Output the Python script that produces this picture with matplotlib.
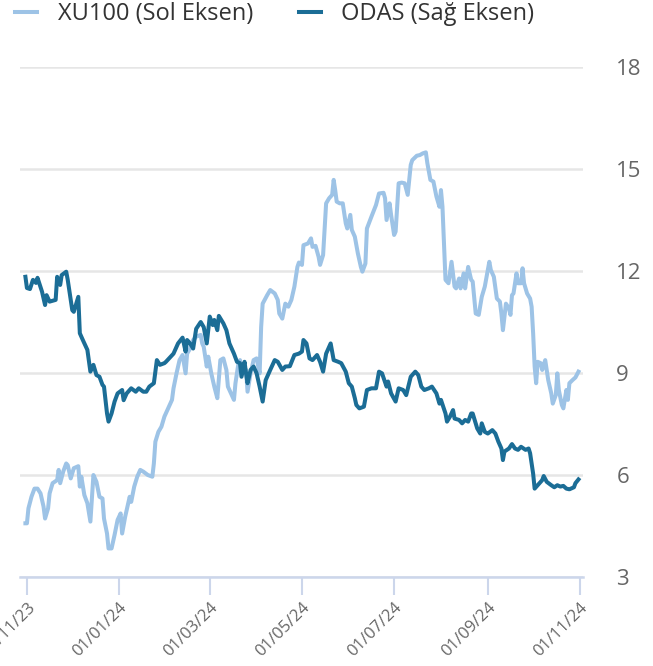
import matplotlib
matplotlib.use("Agg")
import matplotlib.pyplot as plt
import matplotlib.dates as mdates
import pandas as pd

plt.rcParams['font.family'] = ['Open Sans', 'DejaVu Sans']

start = pd.Timestamp('2023-11-01')

# days since 01/11/23 and values
xu100_days = [-1, 0, 1, 3, 5, 7, 9, 11, 12, 14, 15, 17, 20, 21, 22, 24, 26, 27, 29, 31,
              34, 35, 36, 38, 40, 42, 44, 46, 48, 50, 51, 53, 54, 56, 58, 60, 62, 63, 65, 67,
              68, 69, 71, 73, 75, 77, 80, 83, 84, 85, 87, 89, 91, 94, 96, 97, 99, 101, 103, 105,
              106, 108, 110, 112, 115, 116, 117, 119, 120, 122, 124, 126, 128, 130, 132, 133, 136, 137, 138, 140,
              141, 143, 145, 146, 148, 150, 152, 154, 155, 156, 159, 161, 164, 166, 167, 169, 171, 173, 175, 177,
              179, 180, 182, 183, 186, 188, 189, 191, 193, 194, 196, 198, 200, 202, 203, 204, 205, 207, 209, 211,
              212, 214, 215, 217, 219, 221, 222, 224, 225, 228, 231, 233, 236, 237, 238, 240, 241, 243, 244, 246,
              248, 250, 252, 254, 255, 258, 260, 262, 264, 265, 267, 269, 271, 273, 274, 275, 277, 279, 281, 283,
              284, 286, 287, 289, 290, 292, 294, 295, 297, 299, 301, 303, 306, 307, 309, 311, 313, 314, 315, 317,
              319, 320, 321, 322, 324, 325, 327, 328, 329, 331, 333, 334, 335, 336, 337, 338, 340, 341, 343, 345,
              347, 348, 350, 351, 352, 354, 355, 357, 358, 359, 361, 363, 365]
xu100_vals = [4.58, 4.58, 5.02, 5.36, 5.6, 5.6, 5.46, 5.07, 4.72, 5.02, 5.46, 5.76, 5.85, 6.15, 5.76, 6.1, 6.34, 6.29, 5.9, 6.2,
              6.26, 5.66, 5.95, 5.41, 5.17, 4.63, 6.0, 5.8, 5.36, 5.31, 4.72, 4.28, 3.84, 3.84, 4.24, 4.68, 4.87, 4.28, 4.77, 5.17,
              5.36, 5.21, 5.66, 5.95, 6.15, 6.1, 6.0, 5.95, 6.34, 6.98, 7.27, 7.42, 7.72, 8.01, 8.21, 8.55, 8.99, 9.38, 9.53, 8.99,
              9.57, 9.72, 9.97, 10.07, 10.12, 9.87, 9.77, 9.19, 9.48, 8.99, 8.6, 8.26, 9.38, 9.43, 9.09, 8.6, 8.31, 8.21, 8.7, 9.29,
              9.38, 8.99, 9.09, 8.45, 8.99, 9.38, 9.43, 8.99, 10.35, 11.04, 11.29, 11.44, 11.34, 11.15, 10.75, 10.6, 11.04, 10.95, 11.15, 11.54,
              12.12, 12.25, 12.18, 12.76, 12.81, 12.96, 12.71, 12.74, 12.42, 12.18, 12.47, 13.99, 14.14, 14.24, 14.68, 14.38, 14.04, 13.99, 13.99, 13.4,
              13.25, 13.65, 13.21, 13.01, 12.52, 12.12, 11.98, 12.22, 13.25, 13.6, 13.94, 14.28, 14.3, 14.14, 13.5, 13.99, 13.65, 13.06, 13.16, 14.58,
              14.6, 14.58, 14.24, 15.12, 15.26, 15.39, 15.41, 15.46, 15.49, 15.17, 14.68, 14.63, 14.19, 13.89, 14.38, 13.89, 11.74, 11.64, 12.27, 11.54,
              11.49, 11.78, 11.49, 11.93, 11.49, 12.12, 11.74, 11.69, 10.75, 10.71, 11.24, 11.54, 12.27, 12.03, 11.83, 11.19, 11.1, 10.75, 10.26, 11.04,
              10.9, 10.71, 11.29, 11.34, 11.93, 11.64, 11.64, 12.08, 11.64, 11.34, 11.19, 10.95, 10.17, 9.19, 8.7, 9.33, 9.29, 9.09, 9.38, 8.79,
              8.4, 8.1, 8.35, 8.99, 8.5, 8.06, 7.96, 8.5, 8.21, 8.7, 8.79, 8.87, 9.04]

odas_days = [-1, 0, 2, 4, 6, 7, 10, 12, 13, 15, 19, 20, 22, 23, 26, 27, 30, 31, 34, 35,
             37, 40, 42, 44, 46, 48, 50, 51, 53, 54, 56, 58, 60, 63, 64, 66, 69, 72, 74, 77,
             79, 81, 84, 86, 88, 91, 92, 97, 100, 103, 105, 106, 108, 110, 112, 115, 117, 119, 121, 123,
             124, 126, 127, 130, 132, 134, 137, 139, 141, 142, 144, 145, 146, 148, 150, 152, 154, 156, 158, 161,
             164, 166, 169, 171, 174, 177, 180, 182, 183, 185, 187, 189, 192, 194, 196, 198, 201, 203, 206, 208,
             211, 213, 215, 217, 218, 220, 223, 225, 228, 231, 233, 235, 238, 239, 241, 244, 246, 249, 251, 254,
             257, 259, 261, 263, 266, 268, 271, 273, 274, 277, 278, 280, 282, 283, 286, 288, 290, 292, 294, 295,
             298, 300, 301, 303, 305, 308, 310, 312, 314, 315, 316, 319, 321, 323, 325, 327, 330, 332, 333, 335,
             336, 338, 341, 342, 344, 347, 349, 351, 353, 355, 357, 359, 362, 363, 365]
odas_vals = [11.83, 11.5, 11.47, 11.74, 11.65, 11.8, 11.39, 11.0, 11.29, 11.1, 11.15, 11.83, 11.59, 11.88, 11.98, 11.74, 10.85, 10.8, 11.24, 10.17,
             9.97, 9.68, 9.04, 9.24, 8.94, 8.89, 8.65, 8.6, 7.81, 7.57, 7.81, 8.16, 8.4, 8.5, 8.2, 8.4, 8.55, 8.45, 8.55, 8.45,
             8.45, 8.6, 8.7, 9.38, 9.24, 9.29, 9.33, 9.57, 9.87, 10.04, 9.63, 9.97, 9.87, 9.72, 10.3, 10.5, 10.35, 9.87, 10.66, 10.41,
             10.56, 10.26, 10.68, 10.46, 10.26, 9.87, 9.57, 9.33, 9.29, 8.89, 9.33, 8.99, 8.7, 9.09, 9.19, 8.99, 8.6, 8.16, 8.79, 9.09,
             9.38, 9.33, 9.09, 9.19, 9.2, 9.53, 9.57, 9.63, 9.97, 9.87, 9.43, 9.38, 9.53, 9.33, 9.04, 9.57, 9.87, 9.38, 9.33, 9.29,
             9.04, 8.7, 8.6, 8.26, 8.06, 7.96, 8.01, 8.5, 8.55, 8.55, 9.04, 8.99, 8.6, 8.75, 8.4, 8.16, 8.55, 8.5, 8.35, 8.89,
             9.04, 8.94, 8.6, 8.5, 8.55, 8.6, 8.4, 8.1, 8.21, 7.81, 7.57, 7.72, 7.91, 7.66, 7.62, 7.52, 7.62, 7.57, 7.81, 7.81,
             7.37, 7.22, 7.52, 7.27, 7.22, 7.32, 7.22, 6.98, 6.78, 6.44, 6.69, 6.78, 6.91, 6.78, 6.74, 6.83, 6.74, 6.78, 6.64, 6.04,
             5.6, 5.7, 5.85, 5.97, 5.8, 5.7, 5.64, 5.7, 5.66, 5.68, 5.6, 5.58, 5.64, 5.76, 5.87]

right_ticks = [3, 6, 9, 12, 15, 18]
x_ticks = pd.date_range('2023-11-01', '2024-11-01', freq='2MS')

xu100_dates = start + pd.to_timedelta(xu100_days, unit='D')
odas_dates = start + pd.to_timedelta(odas_days, unit='D')

light = '#9dc3e6'
dark = '#1b6d96'
grey = '#666666'

fig = plt.figure(figsize=(6.53, 6.66), dpi=100)
ax = fig.add_axes([0.0306, 0.1336, 0.8622, 0.7658])
ax2 = ax.twinx()

ax.plot(xu100_dates, xu100_vals, color=light, lw=2.9, solid_joinstyle='round',
        label='XU100 (Sol Eksen)')
ax2.plot(odas_dates, odas_vals, color=dark, lw=2.9, solid_joinstyle='round',
         label='ODAS (Sağ Eksen)')

for a in (ax, ax2):
    a.set_ylim(3, 18)
    a.set_xlim(start - pd.Timedelta(days=4.6), start + pd.Timedelta(days=368))
    for s in a.spines.values():
        s.set_visible(False)

ax.set_yticks(right_ticks)
ax.tick_params(axis='y', left=False, labelleft=False)
ax.yaxis.grid(True, color='#e6e6e6', lw=1.8)
ax.set_axisbelow(True)

ax2.set_yticks(right_ticks)
ax2.tick_params(axis='y', length=0, pad=24, labelsize=16, labelcolor=grey)

ax.spines['bottom'].set_visible(True)
ax.spines['bottom'].set_color('#ccd6eb')
ax.spines['bottom'].set_linewidth(1.8)
ax.set_xticks(x_ticks)
ax.xaxis.set_major_formatter(mdates.DateFormatter('%d/%m/%y'))
ax.tick_params(axis='x', length=13, width=1.5, color='#ccd6eb', labelsize=12,
               labelcolor=grey, pad=3)
for lbl in ax.get_xticklabels():
    lbl.set_rotation(45)
    lbl.set_ha('right')
    lbl.set_va('top')
    lbl.set_rotation_mode('anchor')
ax2.tick_params(axis='x', bottom=False, labelbottom=False)

h1, l1 = ax.get_legend_handles_labels()
h2, l2 = ax2.get_legend_handles_labels()
fig.legend(h1 + h2, l1 + l2, loc='upper left', bbox_to_anchor=(0.0086, 1.0105), ncol=2,
           frameon=False, fontsize=17, handlelength=0.95, handletextpad=0.85,
           columnspacing=1.95, borderaxespad=0, labelcolor='#333333')

fig.savefig('out.png', dpi=100)
